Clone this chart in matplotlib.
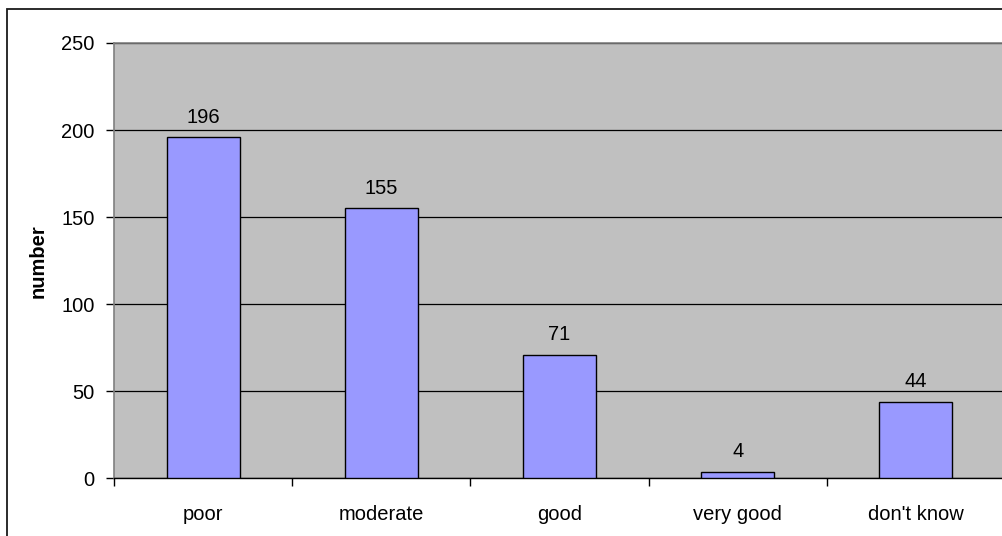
import matplotlib
matplotlib.use("Agg")
import matplotlib.pyplot as plt
from matplotlib.patches import Rectangle
from matplotlib.ticker import FixedLocator, NullFormatter

plt.rcParams['font.family'] = ['Liberation Sans', 'DejaVu Sans']

categories = ["poor", "moderate", "good", "very good", "don't know"]
counts = [196, 155, 71, 4, 44]
y_ticks = [0, 50, 100, 150, 200, 250]

FS = 14.5

fig = plt.figure(figsize=(10.03, 5.36), dpi=100)
ax = fig.add_axes([0.1137, 0.1073, 0.8883, 0.8125])

ax.set_facecolor('#C0C0C0')
x = list(range(len(categories)))
bars = ax.bar(x, counts, width=0.41, color='#9999FF', edgecolor='black',
              linewidth=1.0, zorder=3)

for xi, v in zip(x, counts):
    ax.annotate(str(v), (xi, v), xytext=(0, 7.5), textcoords='offset points',
                ha='center', va='bottom', fontsize=FS, color='black', zorder=4)

ax.set_xlim(-0.5, len(categories) - 0.5)
ax.set_ylim(0, 250)
ax.set_yticks(y_ticks)
ax.set_yticklabels([str(t) for t in y_ticks], fontsize=FS)
ax.set_xticks(x)
ax.set_xticklabels(categories, fontsize=FS)
ax.tick_params(axis='x', which='major', length=0, pad=19)
ax.xaxis.set_minor_locator(FixedLocator([i - 0.5 for i in range(len(categories) + 1)]))
ax.xaxis.set_minor_formatter(NullFormatter())
ax.tick_params(axis='x', which='minor', length=6, width=1.0, color='black', direction='out')
ax.tick_params(axis='y', length=6, width=1.0, color='black', direction='out', pad=8)

ax.yaxis.grid(True, color='black', linewidth=0.9, zorder=1)
ax.set_axisbelow(True)

for side in ('left', 'top'):
    ax.spines[side].set_color('#808080')
    ax.spines[side].set_linewidth(1.2)
ax.spines['bottom'].set_color('black')
ax.spines['bottom'].set_linewidth(1.0)
ax.spines['right'].set_visible(False)

ax.set_ylabel('number', fontsize=FS, fontweight='bold', labelpad=10)

# Outer chart frame
fig.patches.append(Rectangle((0.0065, -0.2), 1.3, 0.9823 + 0.2, transform=fig.transFigure,
                             fill=False, edgecolor='#1a1a1a', linewidth=1.3))

fig.savefig('out.png', dpi=100, facecolor='white')
